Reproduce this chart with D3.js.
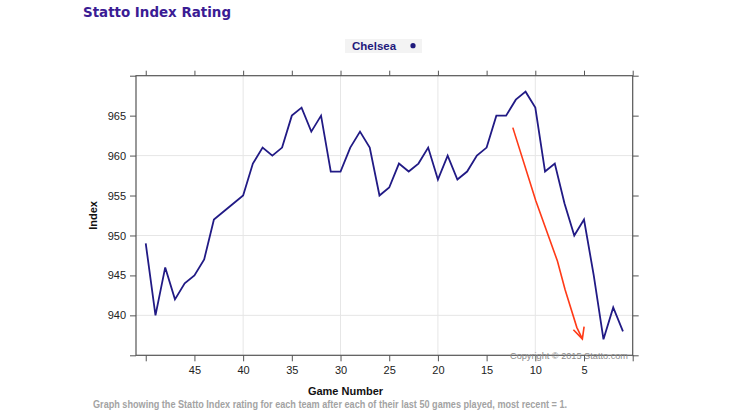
<!DOCTYPE html>
<html><head><meta charset="utf-8">
<script src="https://cdn.jsdelivr.net/npm/d3@7"></script>
<style>body{margin:0;background:#fff}svg{display:block}</style>
</head><body>
<svg id="c" width="740" height="416"></svg>
<script>
const games = d3.range(50, 0, -1);
const chelsea = [949,940,946,942,944,945,947,952,953,954,955,959,961,960,961,965,966,963,965,958,958,961,963,961,955,956,959,958,959,961,957,960,957,958,960,961,965,965,967,968,966,958,959,954,950,952,945,937,941,938];
const xTicks = d3.range(0, 51, 5);
const xLabels = [5,10,15,20,25,30,35,40,45];
const yTicks = d3.range(935, 971, 5);
const yLabels = [940,945,950,955,960,965];
const xGrid = [10,20,30,40];
const yGrid = [940,950,960];
const arrowShaft = [[12.31,963.5],[9.95,954.35],[7.73,946.8],[6.94,943.2],[5.74,938.5],[5.17,937.05]];
const arrowHead = [[6.09,938.2],[5.17,937.05],[4.99,938.6]];

const svg = d3.select("#c");
const L=136, R=632.7, T=75.7, B=355.3;
const x = d3.scaleLinear().domain([51,0]).range([L,R]);
const y = d3.scaleLinear().domain([935,970]).range([B,T]);

svg.append("text").attr("x",83).attr("y",16.5).attr("font-family","DejaVu Sans").attr("font-weight","bold")
  .attr("font-size",14).attr("fill","#3b1c94").attr("textLength",148).attr("lengthAdjust","spacingAndGlyphs").text("Statto Index Rating");

// legend
const lg = svg.append("g");
lg.append("rect").attr("x",345).attr("y",39).attr("width",77).attr("height",14).attr("fill","#f3f3f3");
lg.append("text").attr("x",352).attr("y",50).attr("font-family","Liberation Sans").attr("font-weight","bold")
  .attr("font-size",11.5).attr("fill","#1f1a7c").text("Chelsea");
lg.append("circle").attr("cx",413).attr("cy",45.7).attr("r",2.6).attr("fill","#1f1a7c");

// grid
svg.append("g").selectAll("line").data(xGrid).join("line")
  .attr("x1",d=>x(d)).attr("x2",d=>x(d)).attr("y1",T).attr("y2",B).attr("stroke","#e6e6e6").attr("stroke-width",1);
svg.append("g").selectAll("line").data(yGrid).join("line")
  .attr("x1",L).attr("x2",R).attr("y1",d=>y(d)).attr("y2",d=>y(d)).attr("stroke","#e6e6e6").attr("stroke-width",1);

// axes
function styleAxis(g){
  g.select(".domain").remove();
  g.selectAll(".tick line").attr("stroke","#555");
  g.selectAll(".tick text").attr("font-family","Liberation Sans").attr("font-size",11).attr("fill","#222");
}
svg.append("g").attr("transform",`translate(0,${B})`)
  .call(d3.axisBottom(x).tickValues(xTicks).tickSize(6).tickPadding(5).tickFormat(d=>xLabels.includes(d)?d:""))
  .call(styleAxis);
svg.append("g").attr("transform",`translate(0,${T})`)
  .call(d3.axisTop(x).tickValues(xTicks).tickSize(5).tickFormat(""))
  .call(styleAxis);
svg.append("g").attr("transform",`translate(${L},0)`)
  .call(d3.axisLeft(y).tickValues(yTicks).tickSize(6).tickPadding(4).tickFormat(d=>yLabels.includes(d)?d:""))
  .call(styleAxis);
svg.append("g").attr("transform",`translate(${R},0)`)
  .call(d3.axisRight(y).tickValues(yTicks).tickSize(6).tickFormat(""))
  .call(styleAxis);

svg.append("rect").attr("x",L).attr("y",T).attr("width",R-L).attr("height",B-T)
  .attr("fill","none").attr("stroke","#555").attr("stroke-width",1.2);

// data line
const line = d3.line().x((d,i)=>x(games[i])).y(d=>y(d));
svg.append("path").datum(chelsea).attr("d",line).attr("fill","none").attr("stroke","#211a85").attr("stroke-width",1.8).attr("stroke-linejoin","miter");

// red annotation
const aline = d3.line().x(d=>x(d[0])).y(d=>y(d[1])).curve(d3.curveLinear);
svg.append("path").datum(arrowShaft).attr("d",aline).attr("fill","none").attr("stroke","#ff3a17").attr("stroke-width",1.6);
svg.append("path").datum(arrowHead).attr("d",aline).attr("fill","none").attr("stroke","#ff3a17").attr("stroke-width",1.6);

// copyright
svg.append("text").attr("x",510).attr("y",358.5).attr("font-family","Liberation Sans").attr("font-size",9.5)
  .attr("fill","#8a8a8a").attr("textLength",118).attr("lengthAdjust","spacingAndGlyphs").text("Copyright © 2015 Statto.com");

// axis titles
svg.append("text").attr("x",345.5).attr("y",394.5).attr("text-anchor","middle").attr("font-family","Liberation Sans")
  .attr("font-weight","bold").attr("font-size",11).attr("fill","#111").text("Game Number");
svg.append("text").attr("transform","translate(97,215.5) rotate(-90)").attr("text-anchor","middle").attr("font-family","Liberation Sans")
  .attr("font-weight","bold").attr("font-size",11).attr("fill","#111").text("Index");
svg.append("text").attr("x",93).attr("y",408).attr("font-family","Liberation Sans")
  .attr("font-weight","bold").attr("font-size",10.5).attr("fill","#a3a3a3").attr("textLength",474).attr("lengthAdjust","spacingAndGlyphs")
  .text("Graph showing the Statto Index rating for each team after each of their last 50 games played, most recent = 1.");
</script>
</body></html>
